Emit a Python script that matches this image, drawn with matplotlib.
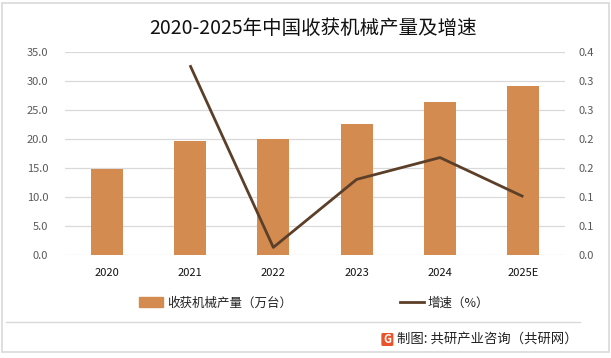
import matplotlib
matplotlib.use("Agg")
import matplotlib.pyplot as plt
import numpy as np
from matplotlib.patches import Rectangle, FancyBboxPatch
from matplotlib.lines import Line2D

plt.rcParams['font.family'] = ['Noto Sans CJK SC', 'DejaVu Sans']

years = ['2020', '2021', '2022', '2023', '2024', '2025E']
output = [14.8, 19.7, 20.0, 22.6, 26.4, 29.2]
growth_years = ['2021', '2022', '2023', '2024', '2025E']
growth = [0.374, 0.015, 0.149, 0.192, 0.115]

W, H = 611, 358
fig = plt.figure(figsize=(W / 100, H / 100), dpi=100)

def fx(px):
    return px / W

def fy(py):
    return 1 - py / H

ax = fig.add_axes([fx(65), fy(255), fx(565) - fx(65), fy(52) - fy(255)])
ax2 = ax.twinx()

bar_color = '#D38B4F'
line_color = '#5C3F29'
grid_color = '#D9D9D9'

x = np.arange(len(years))
ax.bar(x, output, width=0.385, color=bar_color, zorder=2)
ax.set_xlim(-0.5, len(years) - 0.5)
ax.set_ylim(0, 35)
ax.set_yticks(np.arange(0, 35.1, 5))
ax.set_yticklabels([f'{v:.1f}' for v in np.arange(0, 35.1, 5)])
ax.grid(axis='y', color=grid_color, linewidth=0.9, zorder=0)
ax.set_axisbelow(True)
ax.set_xticks(x)
ax.set_xticklabels(years)
for s in ax.spines.values():
    s.set_visible(False)
for s in ax2.spines.values():
    s.set_visible(False)
ax.tick_params(axis='y', length=0, pad=12, labelsize=8, labelcolor='#595959')
ax.tick_params(axis='x', length=0, pad=9, labelsize=8, labelcolor='#111111')

gx = [years.index(y) for y in growth_years]
ax2.plot(gx, growth, color=line_color, linewidth=2.0, zorder=3, solid_capstyle='butt')
ax2.set_ylim(0, 0.4)
rt = np.linspace(0, 0.4, 8)
ax2.set_yticks(rt)
ax2.set_yticklabels([f'{v:.1f}' for v in rt])
ax2.tick_params(axis='y', length=0, pad=10, labelsize=8, labelcolor='#595959')

# title
fig.text(fx(313), fy(28), '2020-2025年中国收获机械产量及增速', ha='center', va='center',
         fontsize=14, color='#111111')

# legend
handles = [Rectangle((0, 0), 1, 1, color=bar_color),
           Line2D([0], [0], color=line_color, linewidth=2.0)]
labels = ['收获机械产量（万台）', '增速（%）']
fig.legend(handles, labels, loc='center left', bbox_to_anchor=(fx(128), fy(303)),
           ncol=2, frameon=False, fontsize=9, handlelength=1.9, handleheight=0.8,
           handletextpad=0.35, columnspacing=8.6, labelcolor='#222222')

# borders
fig.patches.append(Rectangle((fx(2), fy(352)), fx(609) - fx(2), fy(3) - fy(352),
                             transform=fig.transFigure, fill=False,
                             edgecolor='#D9D9D9', linewidth=1.2))
fig.lines.append(Line2D([fx(6), fx(580)], [fy(322), fy(322)], transform=fig.transFigure,
                        color='#D9D9D9', linewidth=1.0))

# source
src = fig.text(fx(578), fy(339), '制图: 共研产业咨询（共研网）', ha='right', va='center',
               fontsize=9.6, color='#222222')
fig.canvas.draw()
bb = src.get_window_extent()
lx0 = bb.x0 - 16
logo = FancyBboxPatch((lx0 / W, fy(346)), 12 / W, 13 / H,
                      boxstyle='round,pad=0,rounding_size=0.003',
                      transform=fig.transFigure, facecolor='#E8532B', edgecolor='none')
fig.patches.append(logo)
fig.text((lx0 + 6) / W, fy(339.5), 'G', ha='center', va='center', fontsize=8,
         color='white', fontweight='bold')

fig.savefig('out.png', dpi=100)
